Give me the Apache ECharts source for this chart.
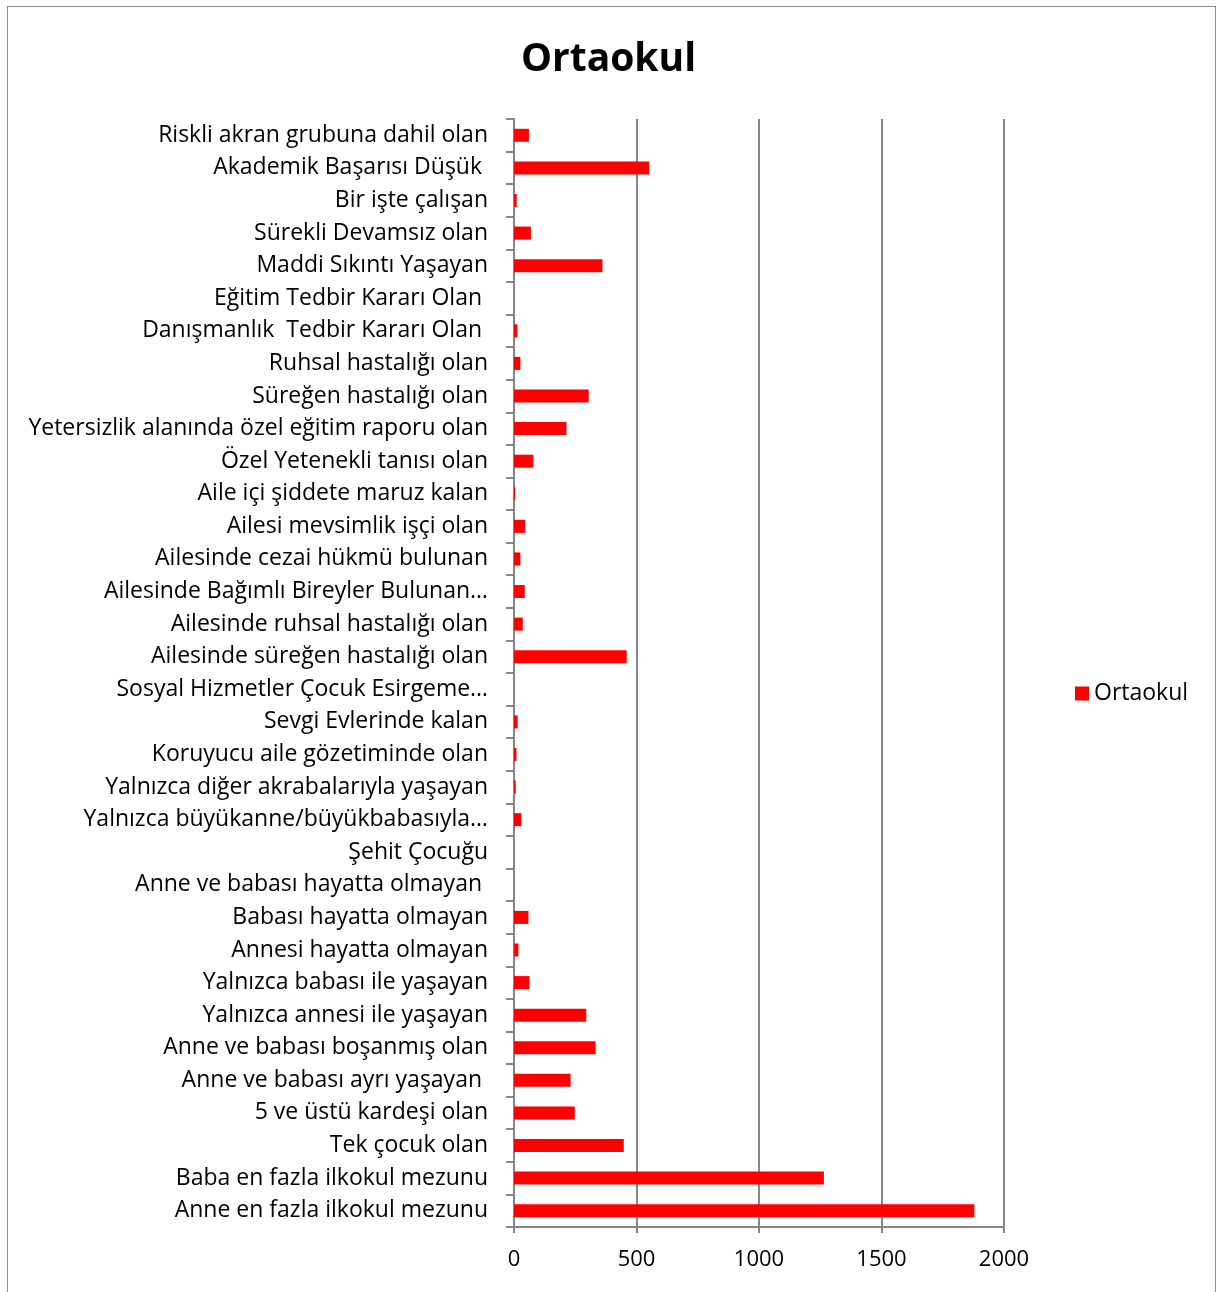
<!DOCTYPE html>
<html>
<head>
<meta charset="utf-8">
<script src="https://cdn.jsdelivr.net/npm/echarts@6/dist/echarts.min.js"></script>
<style>
    html, body { margin: 0; padding: 0; background: #fff; }
    #frame { position: absolute; left: 7px; top: 6px; width: 1207px; height: 1300px; border: 1px solid #8c8c8c; }
    #main { position: absolute; left: 0; top: 0; width: 1217px; height: 1292px; }
</style>
</head>
<body>
<div id="frame"></div>
<div id="main"></div>
<script>
    // kategoriler (yukaridan asagiya)
    var categories = [
        'Riskli akran grubuna dahil olan',
        'Akademik Başarısı Düşük ',
        'Bir işte çalışan',
        'Sürekli Devamsız olan',
        'Maddi Sıkıntı Yaşayan',
        'Eğitim Tedbir Kararı Olan ',
        'Danışmanlık  Tedbir Kararı Olan ',
        'Ruhsal hastalığı olan',
        'Süreğen hastalığı olan',
        'Yetersizlik alanında özel eğitim raporu olan',
        'Özel Yetenekli tanısı olan',
        'Aile içi şiddete maruz kalan',
        'Ailesi mevsimlik işçi olan',
        'Ailesinde cezai hükmü bulunan',
        'Ailesinde Bağımlı Bireyler Bulunan…',
        'Ailesinde ruhsal hastalığı olan',
        'Ailesinde süreğen hastalığı olan',
        'Sosyal Hizmetler Çocuk Esirgeme…',
        'Sevgi Evlerinde kalan',
        'Koruyucu aile gözetiminde olan',
        'Yalnızca diğer akrabalarıyla yaşayan',
        'Yalnızca büyükanne/büyükbabasıyla…',
        'Şehit Çocuğu',
        'Anne ve babası hayatta olmayan ',
        'Babası hayatta olmayan',
        'Annesi hayatta olmayan',
        'Yalnızca babası ile yaşayan',
        'Yalnızca annesi ile yaşayan',
        'Anne ve babası boşanmış olan',
        'Anne ve babası ayrı yaşayan ',
        '5 ve üstü kardeşi olan',
        'Tek çocuk olan',
        'Baba en fazla ilkokul mezunu',
        'Anne en fazla ilkokul mezunu'
    ];
    var ortaokul = [
        61, 552, 11, 69, 361, 0, 14, 26, 305, 214, 79, 5,
        46, 26, 44, 36, 460, 0, 15, 10, 7, 30, 0, 0,
        59, 18, 63, 295, 333, 231, 248, 448, 1265, 1879
    ];
    var xTicks = [0, 500, 1000, 1500, 2000];

    var myChart = echarts.init(document.getElementById('main'));
    var fontName = '"Open Sans", "Noto Sans", sans-serif';
    var option = {
        animation: false,
        title: {
            text: 'Ortaokul',
            left: 'center',
            top: 35,
            textStyle: { fontFamily: fontName, fontSize: 39, fontWeight: 'bold', color: '#000' }
        },
        legend: {
            data: ['Ortaokul'],
            orient: 'vertical',
            left: 1070,
            top: 677,
            itemWidth: 14,
            itemHeight: 14,
            itemGap: 6,
            icon: 'rect',
            textStyle: { fontFamily: fontName, fontSize: 23, color: '#000' }
        },
        grid: {
            left: 514,
            right: 213,
            top: 119,
            bottom: 65
        },
        xAxis: {
            type: 'value',
            min: xTicks[0],
            max: xTicks[xTicks.length - 1],
            interval: 500,
            axisLine: { show: true, lineStyle: { color: '#868686', width: 2 } },
            axisTick: { show: true, length: 6, lineStyle: { color: '#868686', width: 2 } },
            axisLabel: {
                fontFamily: fontName, fontSize: 22, color: '#000', margin: 22,
                formatter: function (v) { return String(v); }
            },
            splitLine: { show: true, lineStyle: { color: '#868686', width: 2 } }
        },
        yAxis: {
            type: 'category',
            inverse: true,
            data: categories,
            axisLine: { show: true, lineStyle: { color: '#868686', width: 2 } },
            axisTick: { show: true, length: 8, lineStyle: { color: '#868686', width: 2 } },
            axisLabel: { fontFamily: fontName, fontSize: 23, color: '#000', margin: 26, interval: 0 }
        },
        series: [
            {
                name: 'Ortaokul',
                type: 'bar',
                data: ortaokul,
                barWidth: 13,
                itemStyle: { color: '#ff0000' }
            }
        ]
    };
    myChart.setOption(option);
    window.addEventListener('resize', function () {
        myChart.resize();
    });
</script>
</body>
</html>
